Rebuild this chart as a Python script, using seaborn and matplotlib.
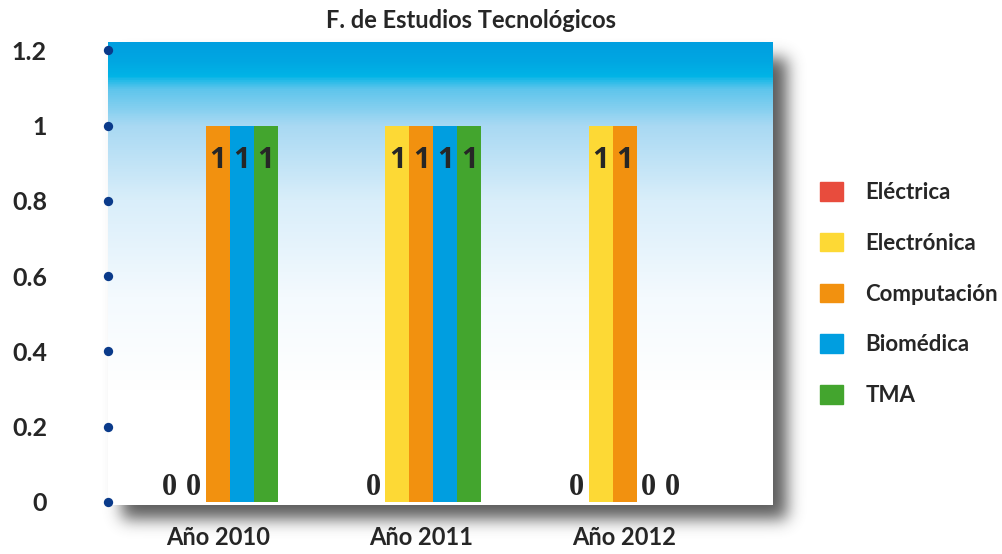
import numpy as np
import pandas as pd
import matplotlib
matplotlib.use("Agg")
import matplotlib.pyplot as plt
from matplotlib.colors import LinearSegmentedColormap
from matplotlib.patches import Patch
import seaborn as sns

# ── Data ───────────────────────────────────────────────────────────────────
YEARS    = ["Año 2010", "Año 2011", "Año 2012"]
CARRERAS = ["Eléctrica", "Electrónica", "Computación", "Biomédica", "TMA"]
ELECTRICA   = [0, 0, 0]
ELECTRONICA = [0, 1, 1]
COMPUTACION = [1, 1, 1]
BIOMEDICA   = [1, 1, 0]
TMA         = [1, 1, 0]
Y_TICKS  = [0, 0.2, 0.4, 0.6, 0.8, 1, 1.2]
Y_LABELS = ["0", "0.2", "0.4", "0.6", "0.8", "1", "1.2"]
TITLE    = "F. de Estudios Tecnológicos"

COLORS = ["#e84c3d", "#fdd935", "#f2910f", "#009ee0", "#43a52e"]
DOT    = "#0a3a8a"
W, H   = 1003, 554

series = [ELECTRICA, ELECTRONICA, COMPUTACION, BIOMEDICA, TMA]
df = pd.DataFrame([
    {"year": y, "carrera": c, "value": v}
    for c, vals in zip(CARRERAS, series)
    for y, v in zip(YEARS, vals)
])

sns.set_style("white")
plt.rcParams["font.family"] = ["Lato", "DejaVu Sans"]
plt.rcParams["font.weight"] = "bold"

fig = plt.figure(figsize=(W / 100, H / 100), dpi=100)
fig.patch.set_facecolor("white")

# ── Drop shadow behind the plot area ───────────────────────────────────────
L, R, T, B = 108, 773, 42, 505
mask = np.zeros((H, W))
mask[T + 16:B + 14, L + 14:R + 14] = 1.0
sig = 8
k = np.exp(-0.5 * (np.arange(-3 * sig, 3 * sig + 1) / sig) ** 2)
k /= k.sum()
mask = np.apply_along_axis(lambda r: np.convolve(r, k, mode="same"), 1, mask)
mask = np.apply_along_axis(lambda c: np.convolve(c, k, mode="same"), 0, mask)
shadow = np.zeros((H, W, 4))
shadow[..., :3] = 0.25
shadow[..., 3] = mask * 0.85
ax_bg = fig.add_axes([0, 0, 1, 1], zorder=0)
ax_bg.imshow(shadow, extent=(0, 1, 0, 1), aspect="auto")
ax_bg.axis("off")

# ── Main axes ──────────────────────────────────────────────────────────────
ax = fig.add_axes([L / W, 1 - B / H, (R - L) / W, (B - T) / H], zorder=1)
ax.set_facecolor("white")
bg_cmap = LinearSegmentedColormap.from_list("bg", [
    (0.00, "#009fe0"), (0.04, "#00a7e2"), (0.07, "#00b4e6"),
    (0.10, "#5ec5ec"), (0.18, "#a9d9f3"), (0.34, "#d9eefa"),
    (0.55, "#f4fafe"), (0.75, "#ffffff"), (1.00, "#ffffff"),
])
grad = np.linspace(0, 1, 500).reshape(-1, 1)
ax.imshow(grad, cmap=bg_cmap, extent=(0, 1, 0, 1), transform=ax.transAxes,
          aspect="auto", zorder=0)

sns.barplot(data=df, x="year", y="value", hue="carrera", order=YEARS,
            hue_order=CARRERAS, palette=COLORS, width=0.59, saturation=1,
            errorbar=None, legend=False, linewidth=0, edgecolor="none",
            ax=ax, zorder=2)

for cont, vals in zip(ax.containers, series):
    for patch, v in zip(cont, vals):
        xc = patch.get_x() + patch.get_width() / 2
        if v > 0:
            ax.annotate(f"{v:g}", (xc, patch.get_height()), xytext=(0, -15),
                        textcoords="offset points", ha="center", va="top",
                        fontsize=21, fontweight="bold", family="Open Sans",
                        zorder=3)
        else:
            ax.annotate(f"{v:g}", (xc, 0), xytext=(0, 0),
                        textcoords="offset points", ha="center", va="bottom",
                        fontsize=22, fontweight="bold", family="Liberation Serif",
                        zorder=3)

ax.set_xlim(-0.54, 2.73)
ax.set_ylim(-0.008, 1.222)
ax.set_yticks(Y_TICKS)
ax.set_yticklabels(Y_LABELS, fontsize=18, fontweight="bold")
ax.set_xticks(range(len(YEARS)))
ax.set_xticklabels(YEARS, fontsize=17, fontweight="bold")
ax.set_xlabel("")
ax.set_ylabel("")
ax.tick_params(axis="x", length=0, pad=15)
ax.tick_params(axis="y", length=0, pad=44)
# round markers on the value axis instead of tick marks
ax.scatter([ax.get_xlim()[0]] * len(Y_TICKS), Y_TICKS, s=45, color=DOT,
           clip_on=False, zorder=4, linewidths=0)
for s in ax.spines.values():
    s.set_visible(False)
ax.grid(False)

handles = [Patch(color=c, label=l) for c, l in zip(COLORS, CARRERAS)]
ax.legend(handles=handles, loc="upper left",
          bbox_to_anchor=(820 / W, 1 - 182 / H), bbox_transform=fig.transFigure,
          frameon=False, prop={"size": 16, "weight": "bold"},
          handlelength=1.04, handleheight=0.9, handletextpad=1.0,
          labelspacing=1.34, borderpad=0, borderaxespad=0)

fig.text(471 / W, 1 - 20 / H, TITLE, ha="center", va="center",
         fontsize=17, fontweight="bold")

fig.savefig("out.png", dpi=100)
